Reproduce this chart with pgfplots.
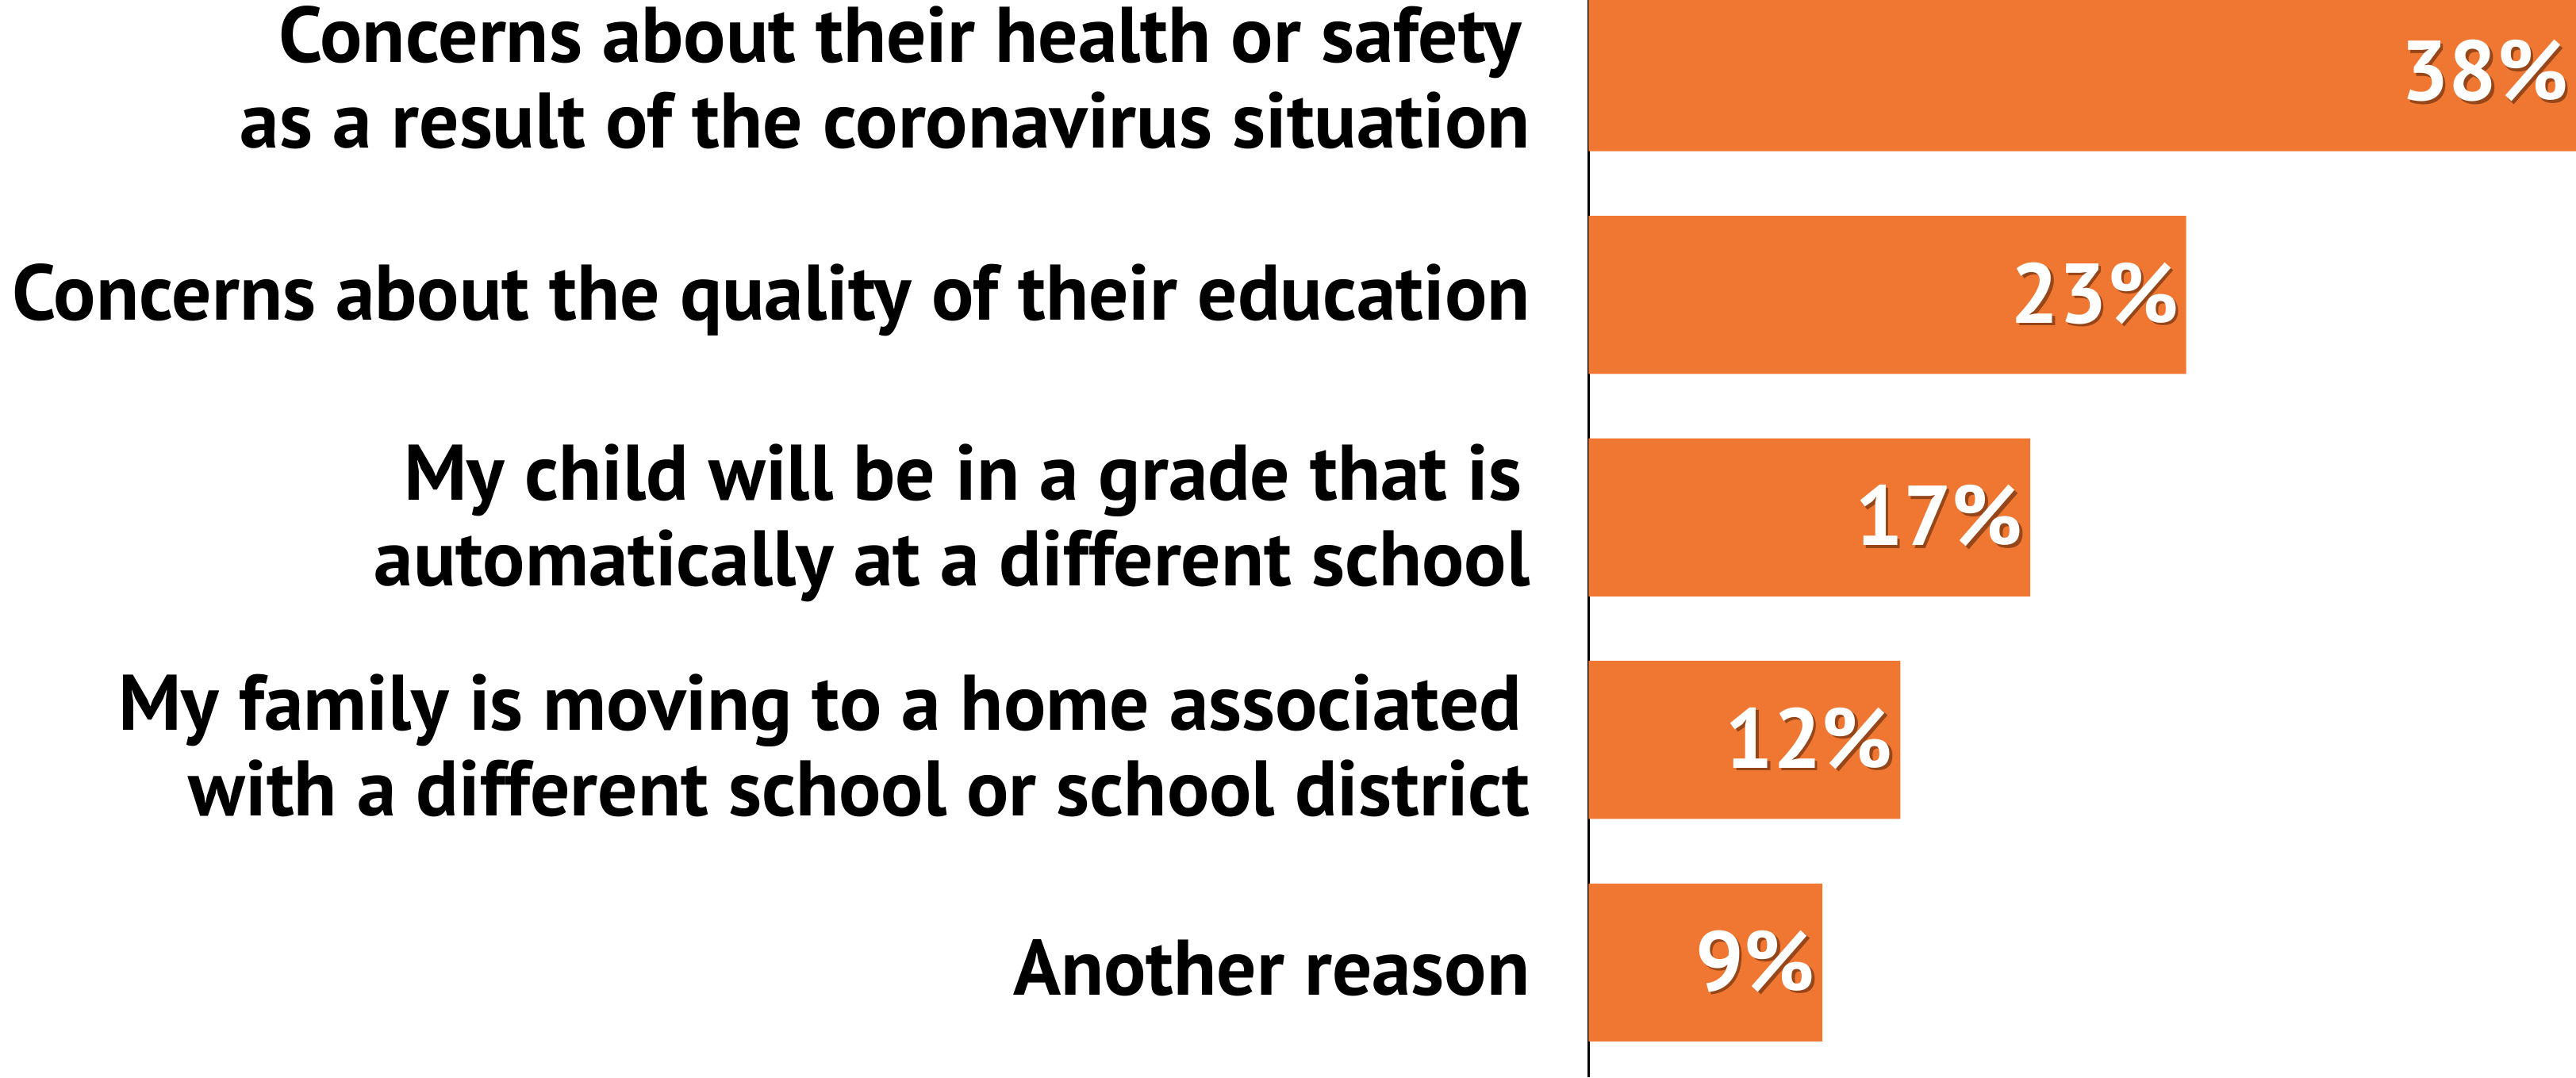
\documentclass[border=0pt]{standalone}
\usepackage{fontspec}
\setmainfont{PT Sans}
\usepackage{pgfplots}
\pgfplotsset{compat=1.18}

\definecolor{barorange}{RGB}{239,119,50}
\definecolor{shadowc}{RGB}{150,70,25}

% white value label with a small dark drop shadow
\newcommand\shadowtext[1]{%
  \makebox[0pt][l]{\raisebox{-0.5pt}{\hspace{0.5pt}\textcolor{shadowc}{#1}}}%
  \textcolor{white}{#1}}

\begin{document}
\begin{tikzpicture}
\path[use as bounding box] (-290.1pt,0) rectangle (180.3pt,196.8pt);
\begin{axis}[
    xbar,
    scale only axis,
    width=180.3pt,
    height=196.8pt,
    xmin=0, xmax=38,
    ymin=-0.517, ymax=4.325,
    bar width=0.71,
    axis x line=none,
    axis y line*=left,
    y axis line style={-, line width=0.4pt},
    xtick=\empty,
    ytick={0,1,2,3,4},
    yticklabels={
        {Another reason},
        {My family is moving to a home associated\kern1.5pt\\with a different school or school district},
        {My child will be in a grade that is\kern1.5pt\\automatically at a different school},
        {Concerns about the quality of their education},
        {Concerns about their health or safety\kern1.5pt\\as a result of the coronavirus situation}
    },
    major tick length=0pt,
    yticklabel style={align=right, anchor=east, inner sep=0pt, xshift=-10.5pt, yshift=-1pt,
        font=\fontsize{14.4}{15.7}\selectfont\bfseries},
    nodes near coords={\shadowtext{\pgfmathprintnumber[assume math mode=true]{\pgfplotspointmeta}\%}},
    nodes near coords style={anchor=east, inner sep=0pt, xshift=-1.2pt,
        font=\fontsize{15.5}{16}\selectfont\bfseries},
]
\addplot[fill=barorange, draw=none] coordinates {
    (38,4)
    (23,3)
    (17,2)
    (12,1)
    (9,0)
};
\end{axis}
\end{tikzpicture}
\end{document}
